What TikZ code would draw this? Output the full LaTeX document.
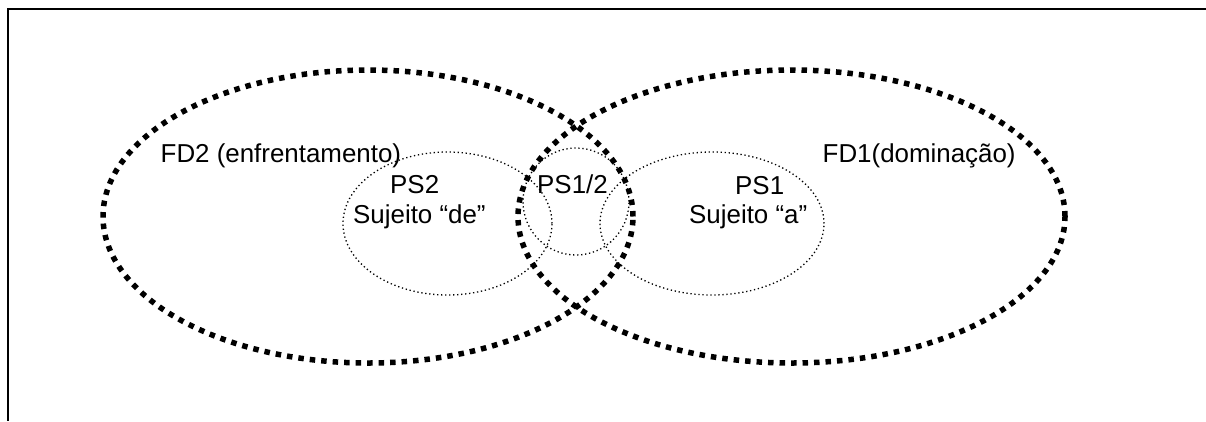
\documentclass[tikz,border=0pt]{standalone}
\usepackage{fontspec}
\setmainfont{Liberation Sans}
\usetikzlibrary{shapes.geometric}
\begin{document}
\begin{tikzpicture}[x=1pt,y=-1pt,
  fdring/.style={ellipse,draw=black,line width=5.5pt,dash pattern=on 5.5pt off 6pt,inner sep=0pt,outer sep=0pt},
  psring/.style={ellipse,draw=black,line width=1.3pt,dash pattern=on 1.3pt off 2.7pt,inner sep=0pt,outer sep=0pt},
  lbl/.style={anchor=base west,inner sep=0pt,font=\fontsize{25.9}{30}\selectfont}]
\useasboundingbox (0,0) rectangle (1206,421);
\draw[line width=2.5pt] (1206,9) -- (8,9) -- (8,421);
% large formations
\node[fdring,minimum width=530pt,minimum height=293pt] (fd2) at (368,216.5) {};
\node[fdring,minimum width=547pt,minimum height=293pt] (fd1) at (791.5,216.5) {};
% positions
\node[psring,minimum width=209pt,minimum height=143pt] (ps2) at (447.5,223.5) {};
\node[psring,minimum width=106pt,minimum height=107pt] (ps12) at (576,201.5) {};
\node[psring,minimum width=224pt,minimum height=143pt] (ps1) at (712,223.5) {};
% labels
\node[lbl] (fd2lbl) at (160.5,162) {FD2 (enfrentamento)};
\node[lbl] (fd1lbl) at (822.5,162) {FD1(dominação)};
\node[lbl] (ps2a) at (390,193) {PS2};
\node[lbl] (ps2b) at (353,223) {Sujeito “de”};
\node[lbl] (ps12lbl) at (537,193) {PS1/2};
\node[lbl] (ps1a) at (735,194) {PS1};
\node[lbl] (ps1b) at (689,223) {Sujeito “a”};
\end{tikzpicture}
\end{document}
